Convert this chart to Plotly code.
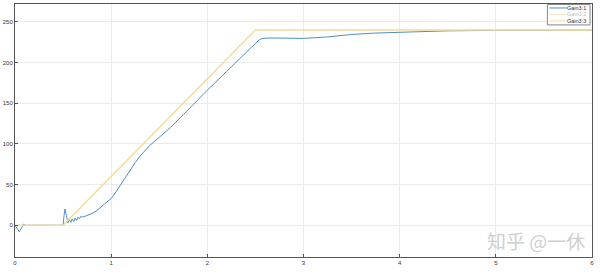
import plotly.graph_objects as go

# Gain3:1 (blue) response
t_blue = [0, 0.02, 0.045, 0.07, 0.09, 0.11, 0.5, 0.51, 0.52, 0.535, 0.55, 0.565, 0.58,
          0.595, 0.61, 0.625, 0.64, 0.655, 0.67, 0.685, 0.70, 0.75, 0.8, 0.85, 0.9, 0.95,
          1.0, 1.05, 1.1, 1.15, 1.2, 1.25, 1.3, 1.35, 1.4, 1.45, 1.5, 1.615, 1.75, 1.89,
          2.0, 2.2, 2.4, 2.474, 2.5, 2.52, 2.54, 2.56, 2.6, 2.7, 2.8, 3.0, 3.25, 3.5,
          3.75, 4.0, 4.5, 5.0, 5.5, 6.0]
v_blue = [0, -4, -8, -3, 1.5, 0, 0, 12, 20, 12, 3, 7, 3.5, 8, 4.5, 9, 6, 10, 8, 11,
          10, 12, 14.5, 18, 23, 28, 33, 41, 50, 60, 69, 77, 85, 92, 98, 103, 108, 120,
          136, 153, 166, 189, 212, 220, 223.5, 226, 228, 229.2, 230, 230.2, 230, 229.7,
          231.5, 234.5, 236.3, 237.5, 239, 239.6, 240, 240]

# Gain3:2 / Gain3:3 reference ramp
t_ref = [0, 0.5, 2.5, 6.0]
v_ref = [0, 0, 240, 240]

x_ticks = [0, 1, 2, 3, 4, 5, 6]
y_ticks = [0, 50, 100, 150, 200, 250]

names = ["Gain3:1", "Gain3:2", "Gain3:3"]
colors = ["#4f8fc6", "#f4e4cc", "#F2DC98"]
text_colors = ["#333", "#bbb", "#333"]

fig = go.Figure()
fig.add_trace(go.Scatter(x=t_blue, y=v_blue, mode="lines", name=names[0],
                         line=dict(color=colors[0], width=1)))
fig.add_trace(go.Scatter(x=t_ref, y=v_ref, mode="lines", name=names[2],
                         line=dict(color=colors[2], width=1.4)))

axis_common = dict(showgrid=True, gridcolor="#ebebeb", gridwidth=1, zeroline=False,
                   showline=True, linecolor="#555", linewidth=1, mirror=True,
                   ticks="inside", ticklen=3, tickcolor="#555",
                   tickfont=dict(size=6, color="#333", family="Liberation Sans"))

fig.update_xaxes(range=[0, 6], tickvals=x_ticks, **axis_common)
fig.update_yaxes(range=[-39, 272], tickvals=y_ticks, **axis_common)

# custom compact legend (pixel layout converted to paper coords)
L, R, T, B = 10, 592, 3, 257
def px(x):
    return (x - L) / (R - L)
def py(y):
    return (B - y) / (B - T)

shapes = [dict(type="rect", xref="paper", yref="paper", x0=px(547), x1=px(590),
               y0=py(24), y1=py(3.5), line=dict(color="#888", width=1), fillcolor="white")]
annotations = []
rows = [7, 13.5, 20]
for name, c, tc, ry in zip(names, colors, text_colors, rows):
    shapes.append(dict(type="line", xref="paper", yref="paper", x0=px(549), x1=px(567),
                       y0=py(ry), y1=py(ry), line=dict(color=c, width=1)))
    annotations.append(dict(text=name, x=px(588), y=py(ry), xref="paper", yref="paper",
                            xanchor="right", yanchor="middle", showarrow=False,
                            font=dict(size=5.5, color=tc, family="Liberation Sans")))

annotations.append(dict(text="知乎 @一休", x=px(587), y=py(256), xref="paper", yref="paper",
                        xanchor="right", yanchor="bottom", showarrow=False,
                        font=dict(size=19, color="#cfcfcf", family="Noto Sans CJK SC")))

fig.update_layout(
    width=600, height=274,
    margin=dict(l=L, r=600 - R, t=T, b=274 - B),
    paper_bgcolor="white", plot_bgcolor="white",
    showlegend=False,
    shapes=shapes,
    annotations=annotations,
)

fig.write_html("out.html")
